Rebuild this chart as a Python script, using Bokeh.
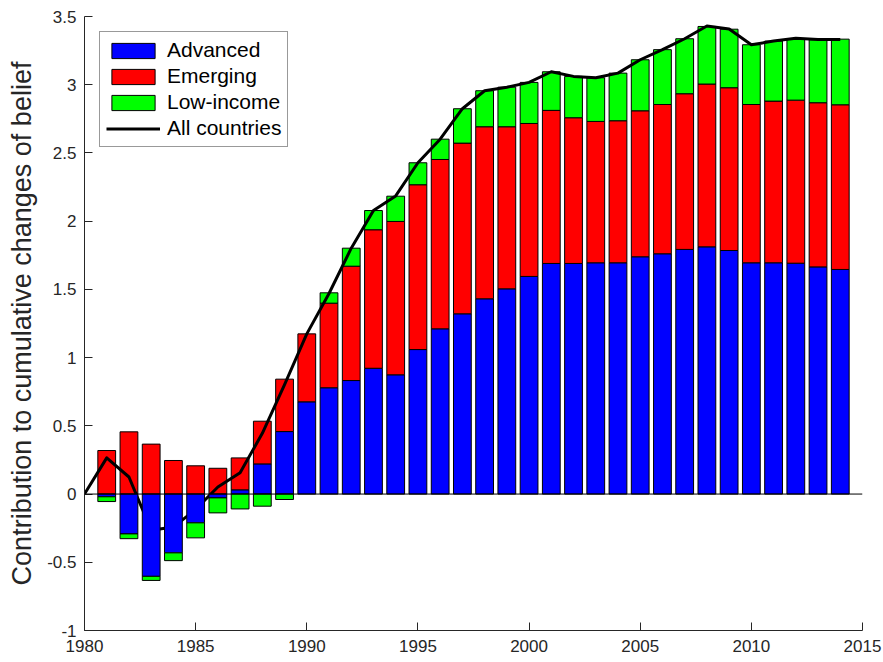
import numpy as np

from bokeh.embed import file_html
from bokeh.models import (ColumnDataSource, FixedTicker, Legend, LegendItem,
                          PrintfTickFormatter, Range1d, Span)
from bokeh.plotting import figure
from bokeh.resources import INLINE

# data
years = list(range(1981, 2015))
advanced = [-0.020, -0.292, -0.603, -0.431, -0.211, -0.028, 0.031, 0.221,
            0.458, 0.676, 0.779, 0.832, 0.922, 0.874, 1.059, 1.211, 1.321,
            1.431, 1.504, 1.595, 1.690, 1.690, 1.695, 1.695, 1.739, 1.761,
            1.793, 1.812, 1.785, 1.695, 1.695, 1.692, 1.665, 1.646]
emerging = [0.319, 0.456, 0.366, 0.246, 0.207, 0.189, 0.234, 0.313,
            0.384, 0.498, 0.620, 0.838, 1.015, 1.124, 1.208, 1.241, 1.251,
            1.261, 1.188, 1.121, 1.122, 1.068, 1.036, 1.041, 1.070, 1.094,
            1.141, 1.193, 1.193, 1.160, 1.185, 1.195, 1.203, 1.207]
low_income = [-0.035, -0.035, -0.030, -0.057, -0.110, -0.110, -0.109, -0.089,
              -0.040, 0.0, 0.076, 0.132, 0.141, 0.185, 0.161, 0.149, 0.252,
              0.264, 0.290, 0.301, 0.283, 0.303, 0.320, 0.349, 0.374, 0.402,
              0.403, 0.422, 0.429, 0.438, 0.440, 0.447, 0.462, 0.481]

line_years = list(range(1980, 2015))
all_countries = [0.0, 0.265, 0.125, -0.265, -0.242, -0.112, 0.052, 0.156,
                 0.445, 0.802, 1.174, 1.470, 1.802, 2.078, 2.185, 2.428,
                 2.601, 2.824, 2.956, 2.982, 3.017, 3.095, 3.061, 3.051,
                 3.085, 3.183, 3.257, 3.337, 3.430, 3.409, 3.293, 3.320,
                 3.340, 3.332, 3.332]

x_ticks = [1980, 1985, 1990, 1995, 2000, 2005, 2010, 2015]
y_ticks = [-1, -0.5, 0, 0.5, 1, 1.5, 2, 2.5, 3, 3.5]

FONT = "Liberation Sans"
AXIS_COLOR = "#262626"

p = figure(width=883, height=662, output_backend="svg", toolbar_location=None,
           x_range=Range1d(1980, 2015), y_range=Range1d(-1, 3.5),
           min_border_left=84, min_border_right=21, min_border_top=16,
           min_border_bottom=32)
p.outline_line_color = None
p.grid.visible = False

# stacked bars, positives up from 0 and negatives down from 0
series = [("Advanced", advanced, "#0000ff"),
          ("Emerging", emerging, "#ff0000"),
          ("Low-income", low_income, "#00ff00")]
yrs = np.array(years)
pos_base = np.zeros(len(years))
neg_base = np.zeros(len(years))
pos_parts = []
neg_parts = []
for name, vals, color in series:
    v = np.array(vals)
    m = v > 0
    pos_parts.append((name, color, dict(x=yrs[m], bottom=pos_base[m], top=pos_base[m] + v[m])))
    pos_base = pos_base + np.where(m, v, 0)
    m = v < 0
    neg_parts.append((name, color, dict(x=yrs[m], bottom=neg_base[m] + v[m], top=neg_base[m])))
    neg_base = neg_base + np.where(m, v, 0)

items = []
for name, color, d in pos_parts:
    r = p.vbar(x="x", bottom="bottom", top="top", width=0.8, fill_color=color,
               line_color="black", line_width=1, source=ColumnDataSource(d))
    items.append(LegendItem(label=name, renderers=[r]))

line = p.line(line_years, all_countries, line_color="black", line_width=3,
              line_join="round")
items.append(LegendItem(label="All countries", renderers=[line]))

# negative parts sit over the line, as in the original
for name, color, d in neg_parts:
    p.vbar(x="x", bottom="bottom", top="top", width=0.8, fill_color=color,
           line_color="black", line_width=1, source=ColumnDataSource(d))

p.add_layout(Span(location=0, dimension="width", line_color="black", line_width=1))

# axes
p.xaxis.ticker = FixedTicker(ticks=x_ticks)
p.yaxis.ticker = FixedTicker(ticks=y_ticks)
p.yaxis.formatter = PrintfTickFormatter(format="%g")
for ax in (p.xaxis, p.yaxis):
    ax.major_tick_in = 8
    ax.major_tick_out = 0
    ax.minor_tick_line_color = None
    ax.axis_line_color = AXIS_COLOR
    ax.major_tick_line_color = AXIS_COLOR
    ax.major_label_text_color = AXIS_COLOR
    ax.major_label_text_font = FONT
    ax.major_label_text_font_size = "17px"
p.xaxis.major_label_standoff = 9
p.yaxis.major_label_standoff = 8
p.yaxis.axis_label = "Contribution to cumulative changes of belief"
p.yaxis.axis_label_text_font = FONT
p.yaxis.axis_label_text_font_size = "27px"
p.yaxis.axis_label_text_font_style = "normal"
p.yaxis.axis_label_text_color = AXIS_COLOR
p.yaxis.axis_label_standoff = 7

legend = Legend(items=items, location="top_left", margin=15, padding=6,
                spacing=2, glyph_width=54, glyph_height=19, label_standoff=7,
                label_text_font=FONT, label_text_font_size="21px",
                label_text_color="black", border_line_color="#333333",
                border_line_width=1, background_fill_color="white",
                background_fill_alpha=1)
p.add_layout(legend)

open("out.html", "w").write(file_html(p, INLINE))
